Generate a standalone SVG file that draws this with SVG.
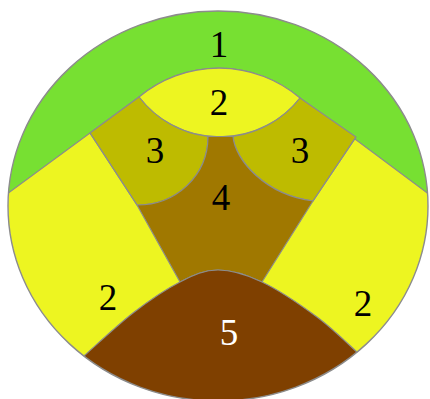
<svg xmlns="http://www.w3.org/2000/svg" width="430" height="399" viewBox="0 0 430 399">
<defs>
<style>
.r{stroke:#8c8c8c;stroke-width:1.2;stroke-linejoin:round}
.t{font-family:"Liberation Serif","Times New Roman",serif;font-size:37px;text-anchor:middle;fill:#000}
</style>
<clipPath id="disc"><ellipse cx="218" cy="206" rx="210" ry="195"/></clipPath>
</defs>
<rect width="430" height="399" fill="#ffffff"/>
<g clip-path="url(#disc)">
<g id="region-2-lower"><ellipse cx="218" cy="206" rx="210" ry="195" fill="#EDF521"/></g>
<g id="region-1"><path class="r" fill="#77E032" d="M -20 213.7 L 139 97 A 125 125 0 0 1 300 98 L 450 209.8 L 450 -10 L -20 -10 Z"/></g>
<g id="region-2-top"><path class="r" fill="#EDF521" d="M 139 97 A 125 125 0 0 1 300 98 A 102 102 0 0 1 139 97 Z"/></g>
<g id="region-3-left"><path class="r" fill="#BEBB00" d="M 90 133 L 139 97 A 102 102 0 0 0 208 136.5 C 208 176 176 205 137 205 Z"/></g>
<g id="region-3-right"><path class="r" fill="#BEBB00" d="M 300 98 L 356 137 L 313 201 C 265 195 235 160 233 136.5 A 102 102 0 0 0 300 98 Z"/></g>
<g id="region-4"><path class="r" fill="#A07800" d="M 208 136.5 L 233 136.5 C 235 160 265 195 313 201 L 262 282 C 245.5 274.2 231.7 270 218 270 C 204.3 270 194.2 274.8 180 282 L 137 205 C 176 205 208 176 208 136.5 Z"/></g>
<g id="region-2-lower-lines"><path class="r" fill="none" d="M 90 133 L 137 205 M 356 137 L 313 201"/></g>
<g id="region-5"><path class="r" fill="#7F4000" d="M 40 400 L 85 355 C 93 348 117.2 325.2 133 313 C 148.8 300.8 165.8 289.2 180 282 C 194.2 274.8 204.3 270 218 270 C 231.7 270 245.5 274.2 262 282 C 278.5 289.8 301 305.2 317 317 C 333 328.8 351.2 347 358 353 L 410 400 L 410 420 L 40 420 Z"/></g>
</g>
<ellipse cx="218" cy="206" rx="210" ry="195" fill="none" stroke="#8c8c8c" stroke-width="1.4"/>
<g id="labels">
<text class="t" x="219" y="57">1</text>
<text class="t" x="219" y="115">2</text>
<text class="t" x="155" y="163">3</text>
<text class="t" x="300" y="163">3</text>
<text class="t" x="221" y="210">4</text>
<text class="t" x="108" y="310">2</text>
<text class="t" x="363" y="316">2</text>
<text class="t" x="229" y="345" fill="#ffffff" style="fill:#ffffff">5</text>
</g>
</svg>
